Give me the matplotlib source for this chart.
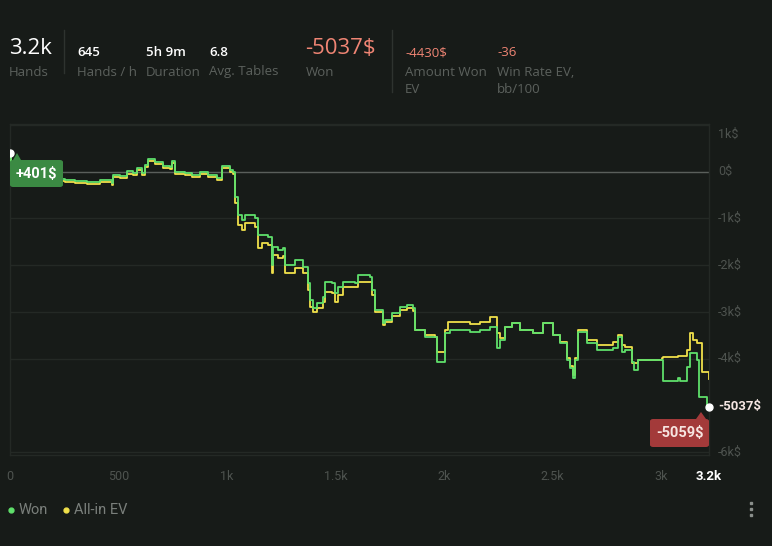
import matplotlib
matplotlib.use("Agg")
import matplotlib.pyplot as plt
from matplotlib import font_manager
from matplotlib.lines import Line2D
from matplotlib.patches import FancyBboxPatch, Polygon

# --- data -------------------------------------------------------------
won_hands = [0, 5, 23, 69, 115, 161, 207, 253, 300, 355, 415, 470, 475, 507,
             539, 567, 585, 608, 622, 636, 668, 705, 737, 747, 760, 807, 839,
             876, 913, 954, 977, 1014, 1028, 1037, 1051, 1069, 1083, 1129,
             1143, 1161, 1189, 1207, 1212, 1235, 1258, 1267, 1313, 1350, 1373,
             1383, 1396, 1415, 1442, 1452, 1484, 1498, 1512, 1535, 1590, 1604,
             1659, 1668, 1682, 1719, 1728, 1761, 1798, 1830, 1857, 1867, 1913,
             1959, 1968, 1996, 2005, 2028, 2120, 2166, 2212, 2245, 2258, 2281,
             2314, 2351, 2397, 2411, 2457, 2503, 2535, 2567, 2581, 2595, 2604,
             2618, 2659, 2705, 2779, 2802, 2821, 2835, 2867, 2876, 2894, 3005,
             3010, 3079, 3088, 3120, 3134, 3166, 3176, 3212, 3222]
won_usd = [401, -92, -135, -178, -156, -199, -156, -178, -199, -221, -178,
           -242, -71, -92, 6, -28, 79, -28, 143, 272, 208, 122, 101, 229, -6,
           -28, -71, -6, -71, -135, 122, 36, -6, -542, -927, -1034, -927,
           -991, -1355, -1355, -1398, -1998, -1612, -1676, -1634, -1998,
           -1890, -2041, -2383, -2747, -2918, -2811, -2683, -2361, -2383,
           -2597, -2469, -2361, -2383, -2212, -2255, -2526, -2961, -3239,
           -3175, -3025, -2897, -2854, -2918, -3389, -3539, -3539, -4074,
           -4074, -3453, -3389, -3432, -3389, -3325, -3774, -3603, -3325,
           -3239, -3389, -3389, -3453, -3239, -3496, -3667, -4031, -4203,
           -4417, -4031, -3432, -3667, -3817, -3774, -3539, -3860, -3817,
           -4074, -4245, -4031, -4031, -4481, -4417, -4481, -4181, -3881,
           -4031, -4824, -5059, -5037]

ev_hands = [0, 5, 23, 69, 115, 161, 207, 253, 300, 355, 415, 470, 475, 507,
            539, 567, 585, 608, 622, 636, 668, 705, 737, 747, 760, 807, 839,
            876, 913, 954, 977, 1014, 1028, 1037, 1051, 1069, 1083, 1129,
            1143, 1161, 1189, 1207, 1212, 1235, 1258, 1267, 1313, 1350, 1373,
            1383, 1396, 1415, 1442, 1452, 1484, 1498, 1512, 1535, 1590, 1604,
            1659, 1668, 1682, 1719, 1728, 1761, 1798, 1830, 1857, 1867, 1913,
            1959, 1968, 1996, 2005, 2019, 2120, 2166, 2212, 2245, 2258, 2281,
            2314, 2351, 2397, 2411, 2457, 2503, 2535, 2567, 2581, 2595, 2604,
            2618, 2659, 2705, 2779, 2802, 2821, 2835, 2867, 2894, 3005, 3010,
            3079, 3120, 3134, 3148, 3166, 3189, 3222]
ev_usd = [401, -113, -178, -221, -199, -242, -199, -221, -242, -263, -221,
          -285, -113, -135, -49, -71, 36, -71, 101, 229, 165, 79, 58, 186,
          -49, -71, -113, -49, -113, -178, 79, -6, -49, -670, -1141, -1248,
          -1098, -1184, -1634, -1527, -1569, -2169, -1783, -1848, -1805,
          -2169, -2062, -2169, -2526, -2897, -3004, -2918, -2790, -2576,
          -2597, -2790, -2640, -2469, -2469, -2361, -2361, -2640, -3004,
          -3282, -3218, -3089, -2961, -2918, -2982, -3389, -3496, -3539,
          -3860, -3860, -3389, -3218, -3261, -3218, -3111, -3453, -3560,
          -3325, -3239, -3389, -3389, -3453, -3239, -3496, -3646, -3989,
          -4160, -4353, -3989, -3389, -3603, -3710, -3646, -3496, -3710,
          -3753, -4096, -4031, -3989, -3967, -3946, -3817, -3453, -3603,
          -3667, -4288, -4430]

start_label = "+401$"
low_label = "-5059$"
won_total = "-5037$"

x_ticks = [0, 500, 1000, 1500, 2000, 2500, 3000]
x_labels = ["0", "500", "1k", "1.5k", "2k", "2.5k", "3k"]
y_ticks = [1000, 0, -1000, -2000, -3000, -4000, -6000]
y_labels = ["1k$", "0$", "-1k$", "-2k$", "-3k$", "-4k$", "-6k$"]

header = [("645", "Hands / h"), ("5h 9m", "Duration"), ("6.8", "Avg. Tables")]

# --- style ------------------------------------------------------------
BG = "#171b18"
GREEN = "#5fe06b"
YELLOW = "#f0e04a"
GRAY = "#5c615d"
SALMON = "#f08574"

names = {f.name for f in font_manager.fontManager.ttflist}
NARROW = "Liberation Sans Narrow" if "Liberation Sans Narrow" in names else "Roboto"
HEAD = "Open Sans"

W, H = 772, 546
fig = plt.figure(figsize=(W / 100, H / 100), dpi=100, facecolor=BG)


def fx(x):
    return x / W


def fy(y):
    return 1 - y / H


ax = fig.add_axes([fx(10), fy(455), fx(709) - fx(10), fy(124) - fy(455)])
ax.set_facecolor(BG)
ax.set_xlim(0, 3222)
ax.set_ylim(-6065, 1021)
for s in ax.spines.values():
    s.set_color("#242925")
    s.set_linewidth(1)

for v in y_ticks:
    ax.axhline(v, color="#242925", lw=1, zorder=1)
ax.axhline(0, color="#5a5f5b", lw=1, zorder=2)

ax.plot(ev_hands, ev_usd, color=YELLOW, lw=1.3, zorder=3,
        drawstyle="steps-post")
ax.plot(won_hands, won_usd, color=GREEN, lw=1.3, zorder=4,
        drawstyle="steps-post")
ax.plot([won_hands[0]], [won_usd[0]], "o", color="white", ms=5, zorder=5)
ax.plot([won_hands[-1]], [won_usd[-1]], "o", color="white", ms=5, zorder=6,
        clip_on=False)

ax.set_xticks(x_ticks)
ax.set_xticklabels(x_labels, family=NARROW, fontsize=9, color="#4e534f")
ax.set_yticks([])
ax.tick_params(axis="x", length=0, pad=11)

# y labels on the right
for v, lab in zip(y_ticks, y_labels):
    yy = v if v < 1000 else 790
    ax.text(1.013, yy, lab, transform=ax.get_yaxis_transform(), ha="left",
            va="center", fontsize=9, color="#4e534f", family=NARROW)
ax.text(1.013, won_usd[-1], won_total, transform=ax.get_yaxis_transform(),
        ha="left", va="center", fontsize=9.5, color="#f5e6e2",
        family=NARROW, weight="bold")
fig.text(fx(709), fy(476), "3.2k", ha="center", va="center", fontsize=9.5,
         color="white", family=NARROW, weight="bold")

# tooltip boxes
box_g = FancyBboxPatch((fx(10), fy(187)), fx(53), fy(160) - fy(187),
                       boxstyle="round,pad=0,rounding_size=0.004",
                       transform=fig.transFigure, facecolor="#3b8a43",
                       edgecolor="none")
fig.patches.append(box_g)
fig.patches.append(Polygon([(fx(13), fy(160)), (fx(17), fy(153)), (fx(21), fy(160))],
                           closed=True, transform=fig.transFigure,
                           facecolor="#3b8a43", edgecolor="none"))
fig.text(fx(36), fy(174), start_label, ha="center", va="center", fontsize=10.5,
         color="white", weight="bold", family="Roboto", zorder=12)

box_r = FancyBboxPatch((fx(650), fy(447)), fx(59), fy(419) - fy(447),
                       boxstyle="round,pad=0,rounding_size=0.004",
                       transform=fig.transFigure, facecolor="#a33a3a",
                       edgecolor="none")
fig.patches.append(box_r)
fig.patches.append(Polygon([(fx(696), fy(419)), (fx(701), fy(412)), (fx(706), fy(419))],
                           closed=True, transform=fig.transFigure,
                           facecolor="#a33a3a", edgecolor="none"))
fig.text(fx(680), fy(433), low_label, ha="center", va="center", fontsize=10.5,
         color="#f6e4e0", weight="bold", family="Roboto", zorder=12)

# header stats
fig.text(fx(9), fy(48), "3.2k", fontsize=16, color="white", va="center",
         family=HEAD)
fig.text(fx(9), fy(72), "Hands", fontsize=9.5, color=GRAY, va="center",
         family=HEAD)
fig.add_artist(Line2D([fx(64), fx(64)], [fy(30), fy(73)], color="#2e332f", lw=1))
for (val, lab), x in zip(header, [77, 146, 209]):
    fig.text(fx(x), fy(53), val, fontsize=9.5, color="white", va="center",
             family=HEAD, weight="semibold")
    fig.text(fx(x), fy(72), lab, fontsize=9.5, color=GRAY, va="center",
             family=HEAD)
fig.text(fx(305), fy(48), won_total, fontsize=16, color=SALMON, va="center",
         family=HEAD)
fig.text(fx(306), fy(72), "Won", fontsize=9.5, color=GRAY, va="center",
         family=HEAD)
fig.add_artist(Line2D([fx(392), fx(392)], [fy(30), fy(92)], color="#2e332f", lw=1))
fig.text(fx(405), fy(53), "-4430$", fontsize=9.5, color=SALMON, va="center",
         family=HEAD)
fig.text(fx(405), fy(81), "Amount Won\nEV", fontsize=9.5, color=GRAY,
         va="center", family=HEAD, linespacing=1.35)
fig.text(fx(497), fy(53), "-36", fontsize=9.5, color=SALMON, va="center",
         family=HEAD)
fig.text(fx(497), fy(81), "Win Rate EV,\nbb/100", fontsize=9.5, color=GRAY,
         va="center", family=HEAD, linespacing=1.35)

# legend
for x, col, lab in [(11, GREEN, "Won"), (66, YELLOW, "All-in EV")]:
    fig.add_artist(Line2D([fx(x)], [fy(510)], marker="o", ms=3.5, color=col,
                          lw=0))
    fig.text(fx(x + 8), fy(510), lab, fontsize=10.5, color="#7a7f7b",
             va="center", family=NARROW)

# menu dots
for y in [503, 509, 515]:
    fig.add_artist(Line2D([fx(751)], [fy(y)], marker="s", ms=2, color="#8a8f8b",
                          lw=0))

fig.savefig("out.png", dpi=100, facecolor=BG)
